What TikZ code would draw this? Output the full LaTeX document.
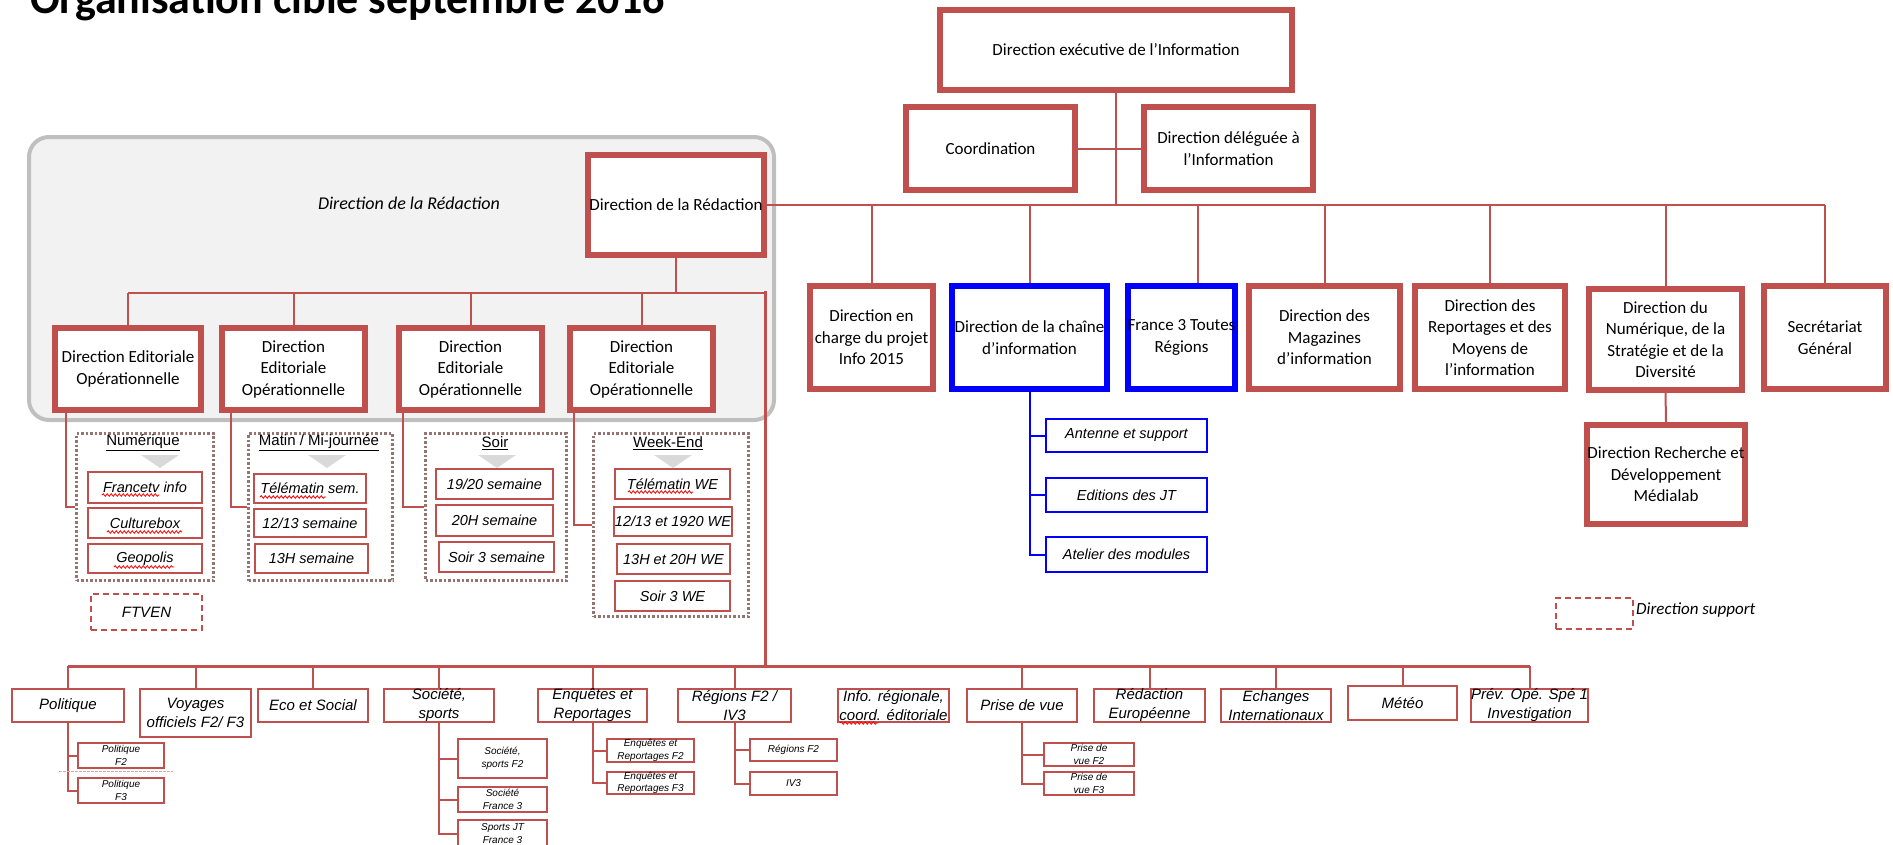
\documentclass[tikz,border=0pt]{standalone}
\usepackage{fontspec}
\setmainfont{Carlito}
\newfontfamily\arialf{Liberation Sans}
\usetikzlibrary{calc,decorations.pathmorphing}
\definecolor{redc}{HTML}{C0504D}
\definecolor{bluec}{HTML}{0000FF}
\definecolor{grayc}{HTML}{BFBFBF}
\definecolor{bgc}{HTML}{F2F2F2}
\definecolor{dotc}{HTML}{957474}
\definecolor{tric}{HTML}{D9D9D9}
\tikzset{
  bigbox/.style={draw=redc, line width=6pt, fill=white, align=center, inner sep=0pt, font=\fontsize{17}{21.5}\selectfont},
  bluebox/.style={bigbox, draw=bluec},
  smallbox/.style={draw=redc, line width=2pt, fill=white, align=center, inner sep=0pt, font=\arialf\itshape\fontsize{15}{19}\selectfont},
  subbox/.style={smallbox, font=\arialf\itshape\fontsize{14.5}{18}\selectfont},
  bluesub/.style={subbox, draw=bluec},
  tinybox/.style={smallbox, font=\arialf\itshape\fontsize{10}{12.5}\selectfont},
  grp/.style={draw=dotc, line width=3pt, dash pattern=on 2.5pt off 2pt},
  grptitle/.style={font=\arialf\fontsize{15}{18}\selectfont, inner sep=0pt},
  dashbox/.style={draw=redc, line width=2pt, dash pattern=on 6pt off 4pt, align=center, inner sep=0pt, font=\arialf\itshape\fontsize{15}{18}\selectfont},
  link/.style={draw=redc, line width=2pt},
  bluelink/.style={draw=bluec, line width=2pt},
  squig/.style={draw=red, line width=0.8pt, decorate, decoration={snake, amplitude=1.3pt, segment length=4pt}}
}
\newcommand{\downtri}[1]{\fill[tric] (#1-19,455) -- (#1+19,455) -- (#1,468) -- cycle;}
\begin{document}
\begin{tikzpicture}[x=1pt, y=-1pt]
\useasboundingbox (0,0) rectangle (1893,844);
\node[anchor=base west, inner sep=0pt, font=\bfseries\fontsize{44}{50}\selectfont] (titre) at (30,13) {Organisation cible septembre 2016};

\node[draw=grayc, fill=bgc, line width=4pt, rounded corners=20pt, minimum width=745, minimum height=283] (redac) at (401.5,278.5) {};
\node[font=\itshape\fontsize{18}{22}\selectfont] (redaclbl) at (409,203) {Direction de la Rédaction};

\node[bigbox, minimum width=352, minimum height=80] (exec) at (1116,50) {Direction exécutive de l'Information};
\node[bigbox, minimum width=169, minimum height=83] (coord) at (990.5,148.5) {Coordination};
\node[bigbox, minimum width=169, minimum height=83] (deleg) at (1228.5,148.5) {Direction déléguée à\\l'Information};
\node[bigbox, minimum width=176, minimum height=100] (ddlr) at (676,205) {Direction de la Rédaction};

\node[bigbox, minimum width=146, minimum height=82] (deo1) at (128,369) {Direction Editoriale\\Opérationnelle};
\node[bigbox, minimum width=143, minimum height=82] (deo2) at (293.5,369) {Direction\\Editoriale\\Opérationnelle};
\node[bigbox, minimum width=143, minimum height=82] (deo3) at (470.5,369) {Direction\\Editoriale\\Opérationnelle};
\node[bigbox, minimum width=143, minimum height=82] (deo4) at (641.5,369) {Direction\\Editoriale\\Opérationnelle};

\node[bigbox, minimum width=123, minimum height=103] (proj) at (871.5,337.5) {Direction en\\charge du projet\\Info 2015};
\node[bluebox, minimum width=155, minimum height=103] (chaine) at (1029.5,337.5) {Direction de la chaîne\\d'information};
\node[bluebox, minimum width=107, minimum height=103] (f3) at (1181.5,337.5) {France 3 Toutes\\Régions};
\node[bigbox, minimum width=151, minimum height=103] (mag) at (1324.5,337.5) {Direction des\\Magazines\\d'information};
\node[bigbox, minimum width=150, minimum height=103] (rep) at (1490,337.5) {Direction des\\Reportages et des\\Moyens de\\l'information};
\node[bigbox, minimum width=153, minimum height=101] (num) at (1665.5,339.5) {Direction du\\Numérique, de la\\Stratégie et de la\\Diversité};
\node[bigbox, minimum width=122, minimum height=103] (sec) at (1825,337.5) {Secrétariat\\Général};
\node[bigbox, minimum width=156, minimum height=99] (medialab) at (1666,474.5) {Direction Recherche et\\Développement\\Médialab};

\node[bluesub, minimum width=161, minimum height=33] (ant) at (1126.5,435.5) {Antenne et support};
\node[bluesub, minimum width=161, minimum height=34] (edi) at (1126.5,495) {Editions des JT};
\node[bluesub, minimum width=161, minimum height=35] (ate) at (1126.5,554.5) {Atelier des modules};

\node[grp, minimum width=137, minimum height=147] (g1) at (145,507) {};
\node[grp, minimum width=144, minimum height=147] (g2) at (320.5,507) {};
\node[grp, minimum width=141, minimum height=147] (g3) at (496,507) {};
\node[grp, minimum width=155, minimum height=183] (g4) at (671,525) {};
\node[grptitle] (t1) at (143,443) {\underline{Numérique}};
\node[grptitle] (t2) at (319,443) {\underline{Matin / Mi-journée}};
\node[grptitle] (t3) at (495,443) {\underline{Soir}};
\node[grptitle] (t4) at (668,443) {\underline{Week-End}};
\downtri{160}
\downtri{327}
\downtri{497}
\downtri{673}

\node[subbox, minimum width=114, minimum height=31] (ftv) at (145,487.5) {Francetv info};
\node[subbox, minimum width=114, minimum height=30] (cul) at (145,523) {Culturebox};
\node[subbox, minimum width=114, minimum height=29] (geo) at (145,558.5) {Geopolis};
\node[subbox, minimum width=112, minimum height=29] (tel) at (310,488.5) {Télématin sem.};
\node[subbox, minimum width=112, minimum height=28] (s1213) at (310,523) {12/13 semaine};
\node[subbox, minimum width=113, minimum height=29] (s13h) at (311.5,558.5) {13H semaine};
\node[subbox, minimum width=117, minimum height=30] (s1920) at (494.5,484) {19/20 semaine};
\node[subbox, minimum width=117, minimum height=31] (s20h) at (494.5,520.5) {20H semaine};
\node[subbox, minimum width=115, minimum height=30] (s3) at (496.5,557) {Soir 3 semaine};
\node[subbox, minimum width=115, minimum height=30] (telwe) at (672.5,484) {Télématin WE};
\node[subbox, minimum width=118, minimum height=29] (we1) at (673,521.5) {12/13 et 1920 WE};
\node[subbox, minimum width=113, minimum height=30] (we2) at (673.5,559) {13H et 20H WE};
\node[subbox, minimum width=115, minimum height=30] (we3) at (672.5,596) {Soir 3 WE};

\node[dashbox, minimum width=111, minimum height=36] (ftven) at (146.5,612) {FTVEN};
\node[dashbox, minimum width=77, minimum height=31] (support) at (1594.5,613.5) {};
\node[anchor=west, inner sep=0pt, font=\itshape\fontsize{17}{20}\selectfont] (supportlbl) at (1636,610) {Direction support};

\node[smallbox, minimum width=112, minimum height=33] (pol) at (68,705.5) {Politique};
\node[smallbox, minimum width=111, minimum height=48] (voy) at (195.5,713) {Voyages\\officiels F2/ F3};
\node[smallbox, minimum width=110, minimum height=33] (eco) at (313,705.5) {Eco et Social};
\node[smallbox, minimum width=110, minimum height=33] (soc) at (439,705.5) {Société,\\sports};
\node[smallbox, minimum width=109, minimum height=33] (enq) at (592.5,705.5) {Enquêtes et\\Reportages};
\node[smallbox, minimum width=113, minimum height=33] (reg) at (734.5,705.5) {Régions F2 /\\IV3};
\node[smallbox, minimum width=111, minimum height=33] (inf) at (893.5,705.5) {Info. régionale,\\coord. éditoriale};
\node[smallbox, minimum width=110, minimum height=33] (pdv) at (1022,705.5) {Prise de vue};
\node[smallbox, minimum width=111, minimum height=33] (red) at (1149.5,705.5) {Rédaction\\Européenne};
\node[smallbox, minimum width=110, minimum height=33] (ech) at (1276,705.5) {Echanges\\Internationaux};
\node[smallbox, minimum width=109, minimum height=34] (met) at (1402.5,703) {Météo};
\node[smallbox, minimum width=113, minimum height=33] (prev) at (1529.5,705.5) {Prév. Opé. Spé 1\\Investigation};

\node[tinybox, minimum width=86, minimum height=25] (polf2) at (121,755.5) {Politique\\F2};
\node[tinybox, minimum width=86, minimum height=25] (polf3) at (121,790.5) {Politique\\F3};
\node[tinybox, minimum width=89, minimum height=39] (socf2) at (502.5,758.5) {Société,\\sports F2};
\node[tinybox, minimum width=89, minimum height=25] (socf3) at (502.5,799.5) {Société\\France 3};
\node[tinybox, minimum width=89, minimum height=27] (socjt) at (502.5,833.5) {Sports JT\\France 3};
\node[tinybox, minimum width=87, minimum height=23] (enqf2) at (650.5,750.5) {Enquêtes et\\Reportages F2};
\node[tinybox, minimum width=87, minimum height=22] (enqf3) at (650.5,783) {Enquêtes et\\Reportages F3};
\node[tinybox, minimum width=87, minimum height=22] (regf2) at (793.5,750) {Régions F2};
\node[tinybox, minimum width=87, minimum height=23] (iv3) at (793.5,783.5) {IV3};
\node[tinybox, minimum width=90, minimum height=23] (pdvf2) at (1089,754.5) {Prise de\\vue F2};
\node[tinybox, minimum width=90, minimum height=23] (pdvf3) at (1089,783.5) {Prise de\\vue F3};

\coordinate (bus2) at (0,205);
\coordinate (bus1) at (0,293);
\coordinate (trunk) at (765,291);
\coordinate (bus3) at (765,666);

\draw[link] (exec.south) -- (exec.south |- bus2);
\draw[link] (coord) -- (deleg);
\draw[link] (ddlr.east) -- (sec.north |- bus2);
\foreach \n in {proj,chaine,mag,rep,num,sec} \draw[link] (\n.north) -- (\n.north |- bus2);
\draw[link] ([xshift=16pt]f3.north) -- ([xshift=16pt]f3.north |- bus2);
\draw[link] (num.south) -- (medialab.north);
\draw[bluelink] (chaine.south) |- (ate.west);
\foreach \n in {ant,edi} \draw[bluelink] (chaine.south |- \n.west) -- (\n.west);

\draw[link] (ddlr.south) -- (ddlr.south |- bus1);
\draw[link] (deo1.north |- bus1) -- (trunk |- bus1);
\foreach \n in {deo1,deo2,deo3,deo4} \draw[link] (\n.north) -- (\n.north |- bus1);
\draw[link] ([xshift=14pt]deo1.south west) |- (g1.west);
\draw[link] ([xshift=12pt]deo2.south west) |- (g2.west);
\draw[link] ([xshift=7pt]deo3.south west) |- (g3.west);
\draw[link] ([xshift=7pt]deo4.south west) |- (g4.west);

\draw[link, line width=3pt] (trunk) -- (bus3) -- (pol.north |- bus3);
\draw[link, line width=3pt] (bus3) -- (prev.north |- bus3);
\foreach \n in {pol,voy,eco,soc,enq,reg,pdv,red,ech,met,prev} \draw[link] (\n.north) -- (\n.north |- bus3);

\draw[link] (pol.south) |- (polf3.west);
\draw[link] (pol.south |- polf2.west) -- (polf2.west);
\draw[redc!50, line width=1pt, dash pattern=on 3pt off 1pt] (59,771) -- (173,771);
\draw[link] (soc.south) |- (socjt.west);
\foreach \n in {socf2,socf3} \draw[link] (soc.south |- \n.west) -- (\n.west);
\draw[link] (enq.south) |- (enqf3.west);
\draw[link] (enq.south |- enqf2.west) -- (enqf2.west);
\draw[link] (reg.south) |- (iv3.west);
\draw[link] (reg.south |- regf2.west) -- (regf2.west);
\draw[link] (pdv.south) |- (pdvf3.west);
\draw[link] (pdv.south |- pdvf2.west) -- (pdvf2.west);

\draw[squig] (102,495) -- (159,495);
\draw[squig] (107,532) -- (182,532);
\draw[squig] (114,567) -- (174,567);
\draw[squig] (260,497) -- (326,497);
\draw[squig] (628,492) -- (693,492);
\draw[squig] (840,723) -- (878,723);
\end{tikzpicture}
\end{document}
